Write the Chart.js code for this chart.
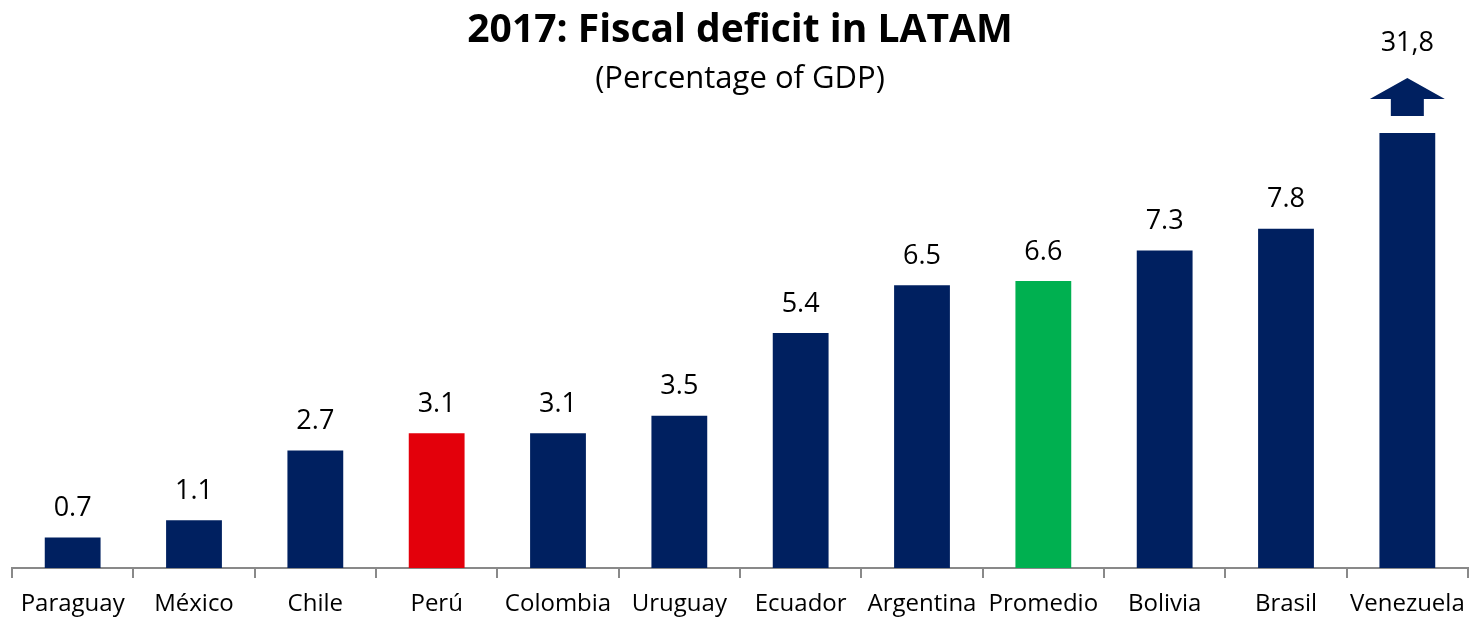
<!DOCTYPE html>
<html>
<head>
<meta charset="utf-8">
<title>2017: Fiscal deficit in LATAM</title>
<script src="https://cdn.jsdelivr.net/npm/chart.js@4.4.1/dist/chart.umd.min.js"></script>
<style>
  html, body { margin: 0; padding: 0; background: #fff; }
  #wrap { width: 1475px; height: 620px; position: relative; }
</style>
</head>
<body>
<div id="wrap"><canvas id="deficit"></canvas></div>
<script>
// déficit fiscal 2017, % do PIB
const countries = ['Paraguay', 'México', 'Chile', 'Perú', 'Colombia', 'Uruguay', 'Ecuador', 'Argentina', 'Promedio', 'Bolivia', 'Brasil', 'Venezuela'];
const deficit = [0.7, 1.1, 2.7, 3.1, 3.1, 3.5, 5.4, 6.5, 6.6, 7.3, 7.8, 31.8];
const barColors = ['#002060', '#002060', '#002060', '#E3000B', '#002060', '#002060', '#002060', '#002060', '#00B050', '#002060', '#002060', '#002060'];
const axisMax = 10;

const FONT = '"Open Sans", Lato, sans-serif';
const fmt = (v) => v > axisMax ? String(v).replace('.', ',') : v.toFixed(1);

// rótulos de valor + seta para a barra cortada no topo
const valueLabels = {
  id: 'valueLabels',
  afterDatasetsDraw(chart) {
    const { ctx, chartArea } = chart;
    const meta = chart.getDatasetMeta(0);
    ctx.save();
    ctx.font = '27px ' + FONT;
    ctx.fillStyle = '#000';
    ctx.textAlign = 'center';
    ctx.textBaseline = 'middle';
    meta.data.forEach((bar, i) => {
      const v = deficit[i];
      if (v > axisMax) {
        const top = chartArea.top;
        const x = bar.x;
        ctx.fillStyle = barColors[i];
        ctx.beginPath();
        ctx.moveTo(x, top - 55);
        ctx.lineTo(x + 37.5, top - 34);
        ctx.lineTo(x + 16.5, top - 34);
        ctx.lineTo(x + 16.5, top - 17);
        ctx.lineTo(x - 16.5, top - 17);
        ctx.lineTo(x - 16.5, top - 34);
        ctx.lineTo(x - 37.5, top - 34);
        ctx.closePath();
        ctx.fill();
        ctx.fillStyle = '#000';
        ctx.fillText(fmt(v), x, top - 90);
      } else {
        ctx.fillText(fmt(v), bar.x, bar.y - 29);
      }
    });
    ctx.restore();
  }
};

new Chart(document.getElementById('deficit'), {
  type: 'bar',
  data: {
    labels: countries,
    datasets: [{
      data: deficit,
      backgroundColor: barColors,
      barPercentage: 0.46,
      categoryPercentage: 1,
      clip: 0
    }]
  },
  options: {
    responsive: true,
    maintainAspectRatio: false,
    animation: false,
    devicePixelRatio: 1,
    layout: { padding: { left: 12, right: 7, top: 0, bottom: 0 } },
    plugins: {
      legend: { display: false },
      tooltip: { enabled: false },
      title: {
        display: true,
        text: '2017: Fiscal deficit in LATAM',
        color: '#000',
        font: { family: FONT, size: 39, weight: 'bold', lineHeight: 1.2 },
        padding: { top: 7, bottom: 0 }
      },
      subtitle: {
        display: true,
        text: '(Percentage of GDP)',
        color: '#000',
        font: { family: FONT, size: 31, lineHeight: 1.2 },
        padding: { top: 7, bottom: 35 }
      }
    },
    scales: {
      x: {
        // altura fixa e sem folga lateral para os rótulos das pontas
        afterFit: (s) => { s.height = 52; s.paddingLeft = 0; s.paddingRight = 0; },
        grid: {
          offset: true,
          drawOnChartArea: false,
          drawTicks: true,
          tickLength: 10,
          color: '#898989',
          lineWidth: 2
        },
        border: { display: true, color: '#898989', width: 2 },
        ticks: {
          color: '#000',
          padding: 12,
          maxRotation: 0,
          autoSkip: false,
          font: { family: FONT, size: 24 }
        }
      },
      y: {
        display: false,
        min: 0,
        max: axisMax
      }
    }
  },
  plugins: [valueLabels]
});
</script>
</body>
</html>
